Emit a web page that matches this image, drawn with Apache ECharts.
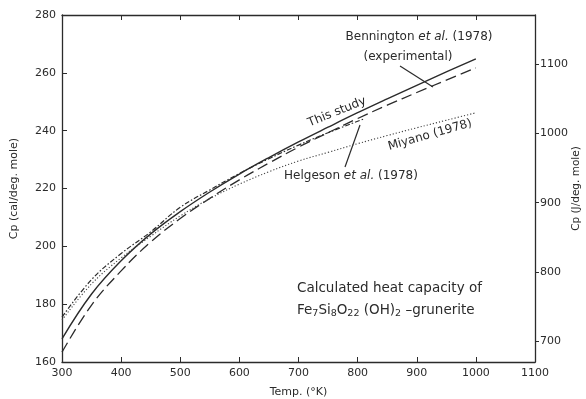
<!DOCTYPE html>
<html>
<head>
<meta charset="utf-8">
<script src="https://cdn.jsdelivr.net/npm/echarts@6/dist/echarts.min.js"></script>
<style>
html,body{margin:0;padding:0;background:#fff;}
#chart{width:586px;height:399px;}
</style>
</head>
<body>
<div id="chart"></div>
<script>
// Temperatures (K)
var temps = [300, 350, 400, 450, 500, 550, 600, 650, 700, 750, 800, 850, 900, 950, 1000];
// Cp (cal/deg. mole)
var thisStudy  = [168.0, 183.5, 195.0, 204.3, 212.0, 218.8, 225.0, 230.7, 236.1, 241.2, 246.2, 251.0, 255.7, 260.3, 264.8];
var bennington = [163.4, 179.7, 191.5, 201.5, 209.6, 216.6, 223.0, 228.8, 234.3, 239.3, 244.2, 248.8, 253.2, 257.5, 261.7];
var helgesonT  = [300, 350, 400, 450, 500, 550, 600, 650, 700, 750, 810];
var helgeson   = [175.5, 188.5, 197.5, 205.0, 213.5, 219.5, 225.2, 230.3, 235.0, 239.3, 244.0];
var miyano     = [174.5, 187.0, 196.0, 203.5, 210.5, 216.5, 221.5, 225.8, 229.5, 232.5, 235.5, 238.3, 241.0, 243.6, 246.2];
// Axis ticks
var xTicks = [300, 400, 500, 600, 700, 800, 900, 1000, 1100];
var calTicks = [160, 180, 200, 220, 240, 260, 280];
var jouleTicks = [700, 800, 900, 1000, 1100];
var CAL_TO_J = 4.184;

function pairs(xs, ys) { return xs.map(function (x, i) { return [x, ys[i]]; }); }

var ink = '#2b2b2b';
var font = 'DejaVu Sans';
var chart = echarts.init(document.getElementById('chart'));

var axisLine = { show: true, lineStyle: { color: ink, width: 1.3 } };
var option = {
  animation: false,
  backgroundColor: '#fff',
  grid: { left: 62, right: 51, top: 15, bottom: 37, containLabel: false, outerBoundsMode: 'none' },
  xAxis: [
    {
      type: 'value', position: 'bottom', min: 300, max: 1100, interval: 100,
      axisLine: axisLine,
      axisTick: { inside: true, length: 5, lineStyle: { color: ink } },
      axisLabel: { color: ink, fontFamily: font, fontSize: 11, margin: 6, formatter: function (v) { return String(v); } },
      splitLine: { show: false },
      name: 'Temp. (°K)', nameLocation: 'middle', nameGap: 25,
      nameTextStyle: { color: ink, fontFamily: font, fontSize: 11 }
    },
    {
      type: 'value', position: 'top', min: 300, max: 1100, interval: 100,
      axisLine: axisLine,
      axisTick: { inside: true, length: 5, lineStyle: { color: ink } },
      axisLabel: { show: false }, splitLine: { show: false }
    }
  ],
  yAxis: [
    {
      type: 'value', position: 'left', min: 160, max: 280, interval: 20,
      axisLine: axisLine,
      axisTick: { inside: true, length: 5, lineStyle: { color: ink } },
      axisLabel: { color: ink, fontFamily: font, fontSize: 11, margin: 6 },
      splitLine: { show: false },
      name: 'Cp (cal/deg. mole)', nameLocation: 'middle', nameGap: 42, nameRotate: 90,
      nameTextStyle: { color: ink, fontFamily: font, fontSize: 11 }
    },
    {
      type: 'value', position: 'right',
      min: calTicks[0] * CAL_TO_J, max: calTicks[calTicks.length - 1] * CAL_TO_J,
      axisLine: axisLine,
      axisTick: { show: true, inside: false, length: 4, customValues: jouleTicks, lineStyle: { color: ink } },
      axisLabel: { color: ink, fontFamily: font, fontSize: 11, margin: 5, customValues: jouleTicks, formatter: function (v) { return String(Math.round(v)); } },
      splitLine: { show: false },
      name: 'Cp (J/deg. mole)', nameLocation: 'middle', nameGap: 36, nameRotate: 90, nameMoveOverlap: false,
      nameTextStyle: { color: ink, fontFamily: font, fontSize: 10.5 }
    }
  ],
  series: [
    {
      name: 'This study', type: 'line', smooth: 0.4, showSymbol: false, symbol: 'none',
      data: pairs(temps, thisStudy),
      lineStyle: { color: ink, width: 1.4, type: 'solid' }
    },
    {
      name: 'Bennington et al. (1978)', type: 'line', smooth: 0.4, showSymbol: false, symbol: 'none',
      data: pairs(temps, bennington),
      lineStyle: { color: ink, width: 1.3, type: [11, 5] }
    },
    {
      name: 'Helgeson et al. (1978)', type: 'line', smooth: 0.4, showSymbol: false, symbol: 'none',
      data: pairs(helgesonT, helgeson),
      lineStyle: { color: ink, width: 1.2, type: [5, 2, 1.5, 2] }
    },
    {
      name: 'Miyano (1978)', type: 'line', smooth: 0.4, showSymbol: false, symbol: 'none',
      data: pairs(temps, miyano),
      lineStyle: { color: '#444', width: 1.1, type: [1.2, 2] }
    }
  ],
  graphic: [
    {
      type: 'text', x: 419, y: 37,
      style: {
        text: 'Bennington {i|et al.} (1978)', align: 'center', verticalAlign: 'middle',
        fill: ink, font: '12px "DejaVu Sans"',
        rich: { i: { fontStyle: 'italic', fontFamily: font, fontSize: 12, fill: ink } }
      }
    },
    {
      type: 'text', x: 408, y: 57,
      style: { text: '(experimental)', align: 'center', verticalAlign: 'middle', fill: ink, font: '12px "DejaVu Sans"' }
    },
    { type: 'line', shape: { x1: 400, y1: 66, x2: 433, y2: 87 }, style: { stroke: ink, lineWidth: 1.2 } },
    {
      type: 'text', x: 337, y: 112, rotation: 22 * Math.PI / 180,
      style: { text: 'This study', align: 'center', verticalAlign: 'middle', fill: ink, font: '12px "DejaVu Sans"' }
    },
    {
      type: 'text', x: 430, y: 135, rotation: 16 * Math.PI / 180,
      style: { text: 'Miyano (1978)', align: 'center', verticalAlign: 'middle', fill: ink, font: '12px "DejaVu Sans"' }
    },
    {
      type: 'text', x: 351, y: 176,
      style: {
        text: 'Helgeson {i|et al.} (1978)', align: 'center', verticalAlign: 'middle',
        fill: ink, font: '12px "DejaVu Sans"',
        rich: { i: { fontStyle: 'italic', fontFamily: font, fontSize: 12, fill: ink } }
      }
    },
    { type: 'line', shape: { x1: 345, y1: 167, x2: 360, y2: 125 }, style: { stroke: ink, lineWidth: 1.2 } },
    {
      type: 'text', x: 297, y: 288,
      style: { text: 'Calculated heat capacity of', align: 'left', verticalAlign: 'middle', fill: ink, font: '13.5px "DejaVu Sans"' }
    },
    {
      type: 'text', x: 297, y: 310,
      style: {
        text: 'Fe{s|7}Si{s|8}O{s|22} (OH){s|2} \u2013grunerite', align: 'left', verticalAlign: 'middle',
        fill: ink, font: '13.5px "DejaVu Sans"',
        rich: { s: { fontSize: 9.5, fontFamily: font, fill: ink, padding: [8, 0, 0, 0] } }
      }
    }
  ]
};
chart.setOption(option);
</script>
</body>
</html>
